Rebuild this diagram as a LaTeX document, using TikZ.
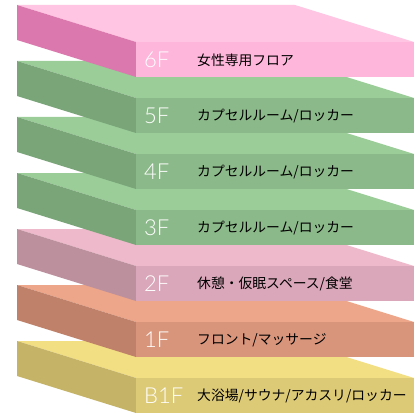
\documentclass[tikz,border=0pt]{standalone}
\usepackage{fontspec}
\newfontfamily\jpfont{Noto Sans CJK JP}
\newfontfamily\floorfont{Lato Light}
\definecolor{pktop}{HTML}{FFC5E2}
\definecolor{pkfront}{HTML}{FFB6DB}
\definecolor{pkside}{HTML}{DB79AE}
\definecolor{grtop}{HTML}{9BCD99}
\definecolor{grfront}{HTML}{8CB98A}
\definecolor{grside}{HTML}{7AA579}
\definecolor{rstop}{HTML}{EEB9CB}
\definecolor{rsfront}{HTML}{DAA6B9}
\definecolor{rsside}{HTML}{BD909E}
\definecolor{ortop}{HTML}{EDA689}
\definecolor{orfront}{HTML}{D8957C}
\definecolor{orside}{HTML}{C0816A}
\definecolor{yltop}{HTML}{F3DF83}
\definecolor{ylfront}{HTML}{DDCA77}
\definecolor{ylside}{HTML}{C5B368}
\tikzset{
  floor/.style={anchor=west, inner sep=0pt, text=white, font=\floorfont\fontsize{22}{22}\selectfont},
  room/.style={anchor=west, inner sep=0pt, text=black, font=\jpfont\fontsize{13.8}{14}\selectfont}
}

\begin{document}
\begin{tikzpicture}[x=1pt, y=-1pt]
      \useasboundingbox (0,0) rectangle (419,414);
      \foreach \i/\fl/\txt/\ctop/\cfront/\cside in {
          6/B1F/{大浴場/サウナ/アカスリ/ロッカー}/yltop/ylfront/ylside,
          5/1F/{フロント/マッサージ}/ortop/orfront/orside,
          4/2F/{休憩・仮眠スペース/食堂}/rstop/rsfront/rsside,
          3/3F/{カプセルルーム/ロッカー}/grtop/grfront/grside,
          2/4F/{カプセルルーム/ロッカー}/grtop/grfront/grside,
          1/5F/{カプセルルーム/ロッカー}/grtop/grfront/grside,
          0/6F/{女性専用フロア}/pktop/pkfront/pkside} {
        \pgfmathsetmacro{\y}{42+56*\i}
        \fill [\ctop] (17,\y-37) -- (295,\y-37) -- (414,\y) -- (136,\y) -- cycle;
        \fill [\cside] (17,\y-37) -- (136,\y) -- (136,\y+35) -- (17,\y-2) -- cycle;
        \fill [\cfront] (136,\y) rectangle (414,\y+35);
        \node [floor] (f\i) at (144,\y+18) {\fl};
        \node [room] (r\i) at (197,\y+18) {\txt};
      }
  \end{tikzpicture}
\end{document}
